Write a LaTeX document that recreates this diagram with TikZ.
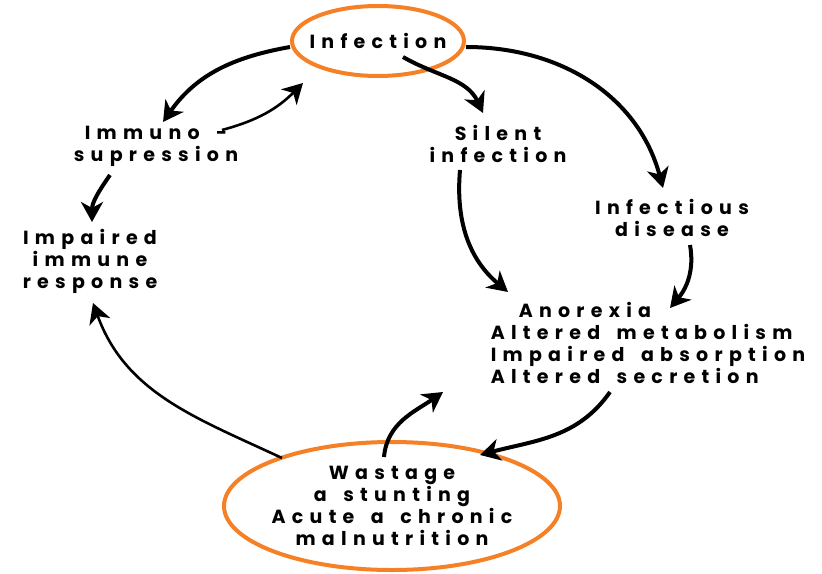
\documentclass[tikz,border=0pt]{standalone}
\usepackage{fontspec}
\setmainfont{Poppins}[LetterSpace=33, WordSpace=1.6]
\usepackage{tikz}
\usetikzlibrary{shapes.geometric, arrows.meta}
\definecolor{ringorange}{RGB}{245,128,37}

\begin{document}
\begin{tikzpicture}[x=0.5pt, y=0.5pt,
  txt/.style={align=center, inner sep=1pt, font=\fontsize{9.5pt}{11pt}\selectfont\bfseries},
  ring/.style={ellipse, draw=ringorange, line width=2pt, inner sep=0pt},
  arr/.style={-{Stealth[length=10pt, width=11pt, inset=3pt]}, line width=2pt},
  thin arr/.style={arr, line width=1.3pt}
]
\useasboundingbox (0,0) rectangle (822,573);
\node[ring, minimum width=86pt, minimum height=35pt] (inf) at (378,532) {};
\node[txt] at (inf.center) {Infection};
\node[txt] (imm) at (156,427) {Immuno -\\supression};
\node[txt] (imp) at (90,312) {Impaired\\immune\\response};
\node[txt] (sil) at (498,429) {Silent\\infection};
\node[txt] (dis) at (672,355) {Infectious\\disease};
\node[txt, align=left] (ano) at (648,230) {\hspace*{14pt}Anorexia\\Altered metabolism\\Impaired absorption\\Altered secretion};
\node[ring, minimum width=168pt, minimum height=64pt] (mal) at (392,67) {};
\node[txt] at (mal.center) {Wastage\\a stunting\\Acute a chronic\\malnutrition};
\draw[arr] ([yshift=-3pt]inf.west) to[out=190, in=55] ([shift={(7,24)}]imm.center);
\draw[thin arr] ([shift={(66,16)}]imm.center) to[out=15, in=225] ([shift={(-75,-42)}]inf.center);
\draw[arr] ([shift={(-46,-29)}]imm.center) to[out=235, in=90] ([shift={(2,39)}]imp.center);
\draw[thin arr] ([shift={(-110,48)}]mal.center) to[out=155, in=290] ([shift={(3,-42)}]imp.center);
\draw[arr] ([shift={(25,-16)}]inf.center) to[out=-30, in=115] ([shift={(-15,31)}]sil.center);
\draw[arr] ([yshift=-3pt]inf.east) to[out=0, in=105] ([shift={(-9,30)}]dis.center);
\draw[arr] ([shift={(-38,-26)}]sil.center) to[out=-95, in=140] ([shift={(-140,51)}]ano.center);
\draw[arr] ([shift={(18,-27)}]dis.center) to[out=-80, in=50] ([shift={(22,35)}]ano.center);
\draw[arr] ([shift={(-38,-49)}]ano.center) to[out=-125, in=15] ([shift={(88,51)}]mal.center);
\draw[arr] ([shift={(-8,49)}]mal.center) to[out=85, in=215] ([shift={(-205,-49)}]ano.center);
\end{tikzpicture}
\end{document}
